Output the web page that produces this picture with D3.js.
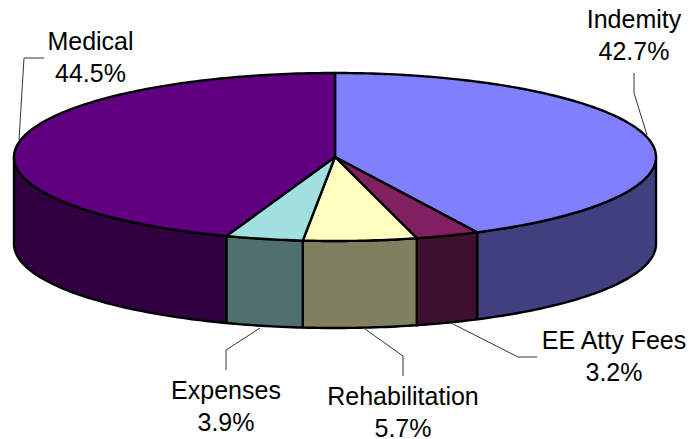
<!DOCTYPE html>
<html lang="en">

<head>
  <meta charset="utf-8">
  <title>Pie chart</title>
  <script src="https://cdn.jsdelivr.net/npm/d3@7"></script>
  <style>
    body { margin: 0; background: #fff; }
    svg { display: block; }
    text { font-family: "Liberation Sans", Arial, sans-serif; font-size: 25px; fill: #000; text-anchor: middle; }
  </style>
</head>

<body>
  <script>
    // Data, clockwise from 12 o'clock
    const categories = ["Indemity", "EE Atty Fees", "Rehabilitation", "Expenses", "Medical"];
    const shares = [42.7, 3.2, 5.7, 3.9, 44.5];
    const topColors = ["#8080ff", "#802060", "#ffffc0", "#a0e0e0", "#600080"];
    const sideColors = ["#404080", "#401030", "#808060", "#507070", "#300040"];

    const w = 689;
    const h = 439;
    const depth = 87;

    // Unit circle -> squashed ellipse
    const x = d3.scaleLinear().domain([-1, 1]).range([14, 656]);
    const y = d3.scaleLinear().domain([-1, 1]).range([73, 241]);

    const svg = d3.select("body").append("svg")
      .attr("width", w)
      .attr("height", h);

    const slices = d3.pie().sort(null)(shares);

    const rimPoints = (a0, a1) => {
      const n = Math.max(2, Math.ceil((a1 - a0) * 60));
      return d3.range(n + 1).map(i => {
        const a = a0 + (a1 - a0) * i / n;
        return [x(Math.sin(a)), y(-Math.cos(a))];
      });
    };
    const line = d3.line();

    // Side walls, only the front half of the rim shows
    svg.append("g").selectAll("path")
      .data(slices)
      .join("path")
      .attr("d", d => {
        const a0 = Math.max(d.startAngle, Math.PI / 2);
        const a1 = Math.min(d.endAngle, Math.PI * 1.5);
        const rim = rimPoints(a0, a1);
        const lower = rim.map(p => [p[0], p[1] + depth]).reverse();
        return line(rim.concat(lower)) + "Z";
      })
      .attr("fill", d => sideColors[d.index])
      .attr("stroke", "#000")
      .attr("stroke-width", 2.4)
      .attr("stroke-linejoin", "round");

    // Top faces
    svg.append("g").selectAll("path")
      .data(slices)
      .join("path")
      .attr("d", d => line([[x(0), y(0)]].concat(rimPoints(d.startAngle, d.endAngle))) + "Z")
      .attr("fill", d => topColors[d.index])
      .attr("stroke", "#000")
      .attr("stroke-width", 2.4)
      .attr("stroke-linejoin", "round");

    // Leader lines
    const leaders = [
      [[634, 73], [634, 93], [647, 135]],
      [[537, 357], [518, 357], [453, 324]],
      [[403, 376], [403, 356], [365, 329]],
      [[226, 370], [226, 350], [260, 328]],
      [[44, 58], [24, 58], [19, 140]]
    ];
    svg.append("g").selectAll("path")
      .data(leaders)
      .join("path")
      .attr("d", d => line(d))
      .attr("fill", "none")
      .attr("stroke", "#333")
      .attr("stroke-width", 1);

    // Labels: name on one line, share under it
    const labelPos = [[634, 28], [614, 349], [403, 405], [226, 399], [90.5, 50]];
    const labels = svg.append("g").selectAll("text")
      .data(categories)
      .join("text")
      .attr("transform", (d, i) => `translate(${labelPos[i][0]},${labelPos[i][1]})`);
    labels.append("tspan").attr("x", 0).attr("y", 0).text(d => d);
    labels.append("tspan").attr("x", 0).attr("y", 32).text((d, i) => shares[i].toFixed(1) + "%");
  </script>
</body>

</html>
